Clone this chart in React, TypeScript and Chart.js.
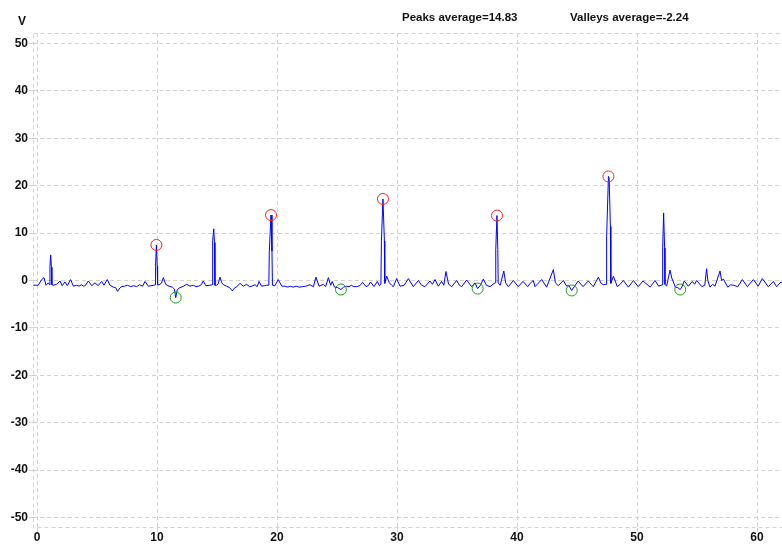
import React, { useEffect, useRef } from "react";
import { Chart, registerables } from "chart.js";

Chart.register(...registerables);

// Signal: [time, voltage] pairs
const signalSegA: [number, number][] = [
  [-0.3, -1.0], [0.1, -1.0], [0.39, 0.2], [0.58, 0.6], [0.75, -1.0], [0.94, -0.5], [1.05, -0.9],
  [1.08, 3.0], [1.14, 5.4], [1.2, 2.8], [1.24, -0.9], [1.36, -1.0], [1.64, -0.8], [1.92, -0.1],
  [2.1, -1.1], [2.33, -0.3], [2.53, -1.1], [2.8, 0.2], [3.03, -1.2], [3.3, -1.0], [3.5, -1.2],
  [3.7, -0.9], [3.9, -1.2], [4.05, -1.0], [4.28, -0.1], [4.56, -1.1], [4.83, -0.5], [5.1, -1.1],
  [5.39, -0.2], [5.58, -1.0], [5.86, 0.2], [6.08, -1.0], [6.36, -1.4], [6.55, -1.5], [6.72, -2.3],
  [6.9, -1.6], [7.06, -1.3], [7.3, -1.2], [7.55, -1.0], [7.8, -1.3], [8.05, -1.1], [8.3, -1.3],
  [8.55, -0.9], [8.8, -1.2], [9.0, -0.2], [9.28, -1.2], [9.5, -1.1], [9.75, -1.0], [9.85, -0.9],
  [9.88, 3.0], [9.95, 7.5], [10.02, 3.0], [10.05, -0.9],
];

const signalSegB: [number, number][] = [
  [10.17, -0.9], [10.36, -0.6], [10.53, 0.6], [10.72, -0.8], [11.0, -1.2], [11.28, -1.4], [11.45, -1.8],
  [11.56, -3.6], [11.68, -2.0], [11.83, -1.6], [12.2, -1.2], [12.47, -0.8], [12.75, -1.2], [13.03, -1.0],
  [13.25, -1.3], [13.44, -1.2], [13.65, -1.0], [13.86, -0.1], [14.06, -1.1], [14.42, -1.0], [14.6, -0.9],
  [14.64, 8.4], [14.73, 10.9], [14.79, 8.0], [14.83, -1.0], [14.97, -1.0], [15.1, -0.7], [15.25, 0.7],
  [15.4, -0.5], [15.53, -0.9], [15.8, -1.2], [16.05, -1.5], [16.28, -2.2], [16.45, -1.6], [16.64, -1.3],
  [16.92, -0.6], [17.19, -1.2], [17.47, -0.8], [17.7, -1.3], [17.89, -1.2], [18.17, -0.9], [18.35, -1.3],
  [18.5, -0.2], [18.72, -1.2], [18.95, -1.1], [19.14, -1.0], [19.32, -1.0],
  [19.36, 6.2], [19.5, 13.8], [19.58, 6.2], [19.62, -1.0],
];

const signalSegC: [number, number][] = [
  [19.83, -1.1], [20.1, 0.2], [20.4, -1.2], [20.67, -1.2], [20.9, -1.4], [21.1, -1.2], [21.35, -1.4],
  [21.6, -1.2], [21.85, -1.4], [22.1, -1.3], [22.4, -1.2], [22.75, -0.9], [23.03, -1.3], [23.25, 0.7],
  [23.5, -1.2], [23.7, -1.0], [23.86, -0.8], [24.05, -1.3], [24.28, 0.6], [24.47, -1.0], [24.6, -0.2],
  [24.8, -1.4], [25.05, -1.5], [25.33, -1.9], [25.55, -1.4], [25.8, -1.2], [26.0, -1.3], [26.2, -1.0],
  [26.4, -1.3], [26.64, -1.3], [26.9, -1.1], [27.14, -0.4], [27.42, -1.3], [27.6, -1.1], [27.8, -0.3],
  [28.08, -1.3], [28.36, -0.2], [28.53, -1.1], [28.66, -0.8],
  [28.7, 8.3], [28.83, 17.2], [28.95, 8.3], [28.98, -0.6],
];

const signalSegD: [number, number][] = [
  [29.14, 0.9], [29.36, -0.5], [29.55, -1.0], [29.7, -1.3], [29.97, 0.4], [30.25, -1.2], [30.6, -1.0],
  [30.95, 0.4], [31.36, -1.3], [31.78, 0.0], [32.05, -1.0], [32.33, -1.3], [32.75, -0.1], [32.95, -0.8],
  [33.17, 0.2], [33.44, -1.2], [33.72, -0.2], [33.9, -1.0], [34.08, 1.9], [34.3, -0.8], [34.56, -1.3],
  [34.97, 0.0], [35.2, -1.0], [35.39, -1.3], [35.8, 0.1], [36.22, -1.3], [36.5, -0.5], [36.72, -1.7],
  [36.95, -1.0], [37.2, 0.3], [37.45, -1.0], [37.75, -1.3], [38.1, -0.6], [38.2, -0.5],
  [38.23, 6.5], [38.33, 13.7], [38.4, 6.5], [38.43, -0.5],
];

const signalSegE: [number, number][] = [
  [38.6, -1.0], [38.9, 2.0], [39.05, -0.5], [39.28, -1.3], [39.7, 0.0], [40.1, -1.3], [40.5, -0.2],
  [40.9, -1.3], [41.1, -0.6], [41.36, 0.0], [41.5, -1.3], [42.06, 0.2], [42.47, -1.4], [43.03, 2.3],
  [43.2, -0.5], [43.44, -1.1], [43.86, 0.0], [44.14, -1.2], [44.3, -1.0], [44.56, -2.1], [44.8, -1.2],
  [45.1, -0.1], [45.5, -1.3], [45.94, -0.1], [46.36, -1.3], [46.78, 0.7], [47.0, -0.6], [47.19, -0.9],
  [47.42, -0.8], [47.47, 9.3], [47.62, 21.95], [47.68, 21.5], [47.78, 11.4], [47.82, -0.6],
];

const signalSegF: [number, number][] = [
  [48.03, 0.9], [48.36, -1.3], [48.6, -0.8], [48.86, 0.0], [49.28, -1.4], [49.7, 0.0], [50.1, -1.3],
  [50.5, -0.1], [51.1, -1.4], [51.5, 0.0], [51.8, -1.2], [52.0, -1.0], [52.12, -0.9],
  [52.14, 6.9], [52.22, 14.25], [52.3, 6.9], [52.33, -0.8],
  [52.47, -1.2], [52.75, 2.2], [52.9, 0.5], [53.03, -0.3], [53.2, -1.4], [53.4, -1.5], [53.6, -1.9],
  [53.75, -1.3], [53.94, -0.1], [54.28, -1.2], [54.6, -0.2], [54.8, -0.8], [54.97, 0.0], [55.4, -1.3],
  [55.65, -1.0], [55.8, 2.5], [55.9, 0.0], [56.08, -1.4], [56.3, -0.8], [56.5, -1.2], [56.92, 2.0],
  [57.05, 0.0], [57.2, 0.3], [57.56, -1.4], [57.8, -0.9], [58.03, -1.0], [58.4, -1.3], [58.78, 0.2],
  [59.2, -1.3], [59.7, 0.2], [60.1, -1.2], [60.44, 0.4], [60.94, -1.3], [61.36, -0.2], [61.64, -1.3],
  [62.0, -0.3], [62.4, -1.2], [62.8, -0.5], [63.2, -1.2], [63.6, -0.4], [64.0, -1.2],
];

const peaksT = [9.95, 19.5, 28.83, 38.33, 47.62];
const peaksV = [7.5, 13.8, 17.2, 13.7, 21.95];
const valleysT = [11.56, 25.33, 36.72, 44.56, 53.6];
const valleysV = [-3.6, -1.9, -1.7, -2.1, -1.9];

const xTicks = [0, 10, 20, 30, 40, 50, 60];
const yTicks = [-50, -40, -30, -20, -10, 0, 10, 20, 30, 40, 50];
const yUnit = "V";

const avg = (a: number[]) => a.reduce((s, v) => s + v, 0) / a.length;

const GRID = "#d2d2d2";
const FONT = "'Liberation Sans', Arial, sans-serif";
const X_MIN = -1 / 3;
const PX_PER_UNIT = 12;

export default function App() {
  const ref = useRef<HTMLCanvasElement | null>(null);

  useEffect(() => {
    if (!ref.current) return;
    const signal = [
      ...signalSegA, ...signalSegB, ...signalSegC, ...signalSegD, ...signalSegE, ...signalSegF,
    ].map(([x, y]) => ({ x, y }));
    const peaks = peaksT.map((x, i) => ({ x, y: peaksV[i] }));
    const valleys = valleysT.map((x, i) => ({ x, y: valleysV[i] }));

    const frameAndText = {
      id: "frameAndText",
      afterLayout(chart: any) {
        // keep 12 px per time unit, extending the axis past the visible window
        const s = chart.scales.x;
        s.max = X_MIN + (s.right - s.left) / PX_PER_UNIT;
        s.configure();
      },
      beforeDatasetsDraw(chart: any) {
        const { ctx, chartArea } = chart;
        ctx.save();
        ctx.strokeStyle = GRID;
        ctx.lineWidth = 1;
        ctx.setLineDash([4, 3]);
        ctx.strokeRect(chartArea.left + 0.5, chartArea.top + 0.5, chartArea.right - chartArea.left - 1, chartArea.bottom - chartArea.top - 1);
        ctx.restore();
      },
      afterDraw(chart: any) {
        const { ctx } = chart;
        ctx.save();
        ctx.fillStyle = "#111";
        ctx.textBaseline = "middle";
        ctx.textAlign = "left";
        ctx.font = `bold 12px ${FONT}`;
        ctx.fillText(yUnit, 18, 22);
        ctx.font = `bold 11.5px ${FONT}`;
        ctx.fillText(`Peaks average=${avg(peaksV).toFixed(2)}`, 402, 18);
        ctx.fillText(`Valleys average=${avg(valleysV).toFixed(2)}`, 570, 18);
        ctx.restore();
      },
    };

    const chart = new Chart(ref.current, {
      type: "line",
      data: {
        datasets: [
          {
            label: "Peaks",
            data: peaks,
            showLine: false,
            pointRadius: 5.5,
            pointBorderWidth: 1,
            pointBorderColor: "#ff2020",
            pointBackgroundColor: "rgba(0,0,0,0)",
            order: 0,
          },
          {
            label: "Valleys",
            data: valleys,
            showLine: false,
            pointRadius: 5.5,
            pointBorderWidth: 1,
            pointBorderColor: "#1a9a1a",
            pointBackgroundColor: "rgba(0,0,0,0)",
            order: 0,
          },
          {
            label: "Signal",
            data: signal,
            borderColor: "#0000ff",
            borderWidth: 1,
            pointRadius: 0,
            tension: 0,
            fill: false,
            order: 1,
          },
        ],
      },
      options: {
        animation: false,
        responsive: false,
        devicePixelRatio: 1,
        layout: { padding: { top: 33, left: 0, right: 0, bottom: 0 } },
        plugins: { legend: { display: false }, tooltip: { enabled: false } },
        scales: {
          x: {
            type: "linear",
            min: X_MIN,
            max: 65,
            afterBuildTicks: (s: any) => { s.ticks = xTicks.map((v) => ({ value: v })); },
            afterFit: (s: any) => { s.height = 17; },
            grid: { color: GRID, tickLength: 4, tickColor: GRID, drawTicks: true },
            border: { display: false, dash: [4, 3] },
            ticks: { color: "#111", font: { family: FONT, size: 12, weight: "bold" }, padding: -2, maxRotation: 0, autoSkip: false },
          },
          y: {
            type: "linear",
            min: -52.2,
            max: 52.2,
            afterBuildTicks: (s: any) => { s.ticks = yTicks.map((v) => ({ value: v })); },
            afterFit: (s: any) => { s.width = 33; },
            grid: { color: GRID, tickLength: 4, tickColor: GRID, drawTicks: true },
            border: { display: false, dash: [4, 3] },
            ticks: { color: "#111", font: { family: FONT, size: 12, weight: "bold" }, padding: 1, autoSkip: false },
          },
        },
      } as any,
      plugins: [frameAndText],
    });
    return () => chart.destroy();
  }, []);

  return (
    <div style={{ position: "fixed", left: 0, top: 0, width: 782, height: 545, overflow: "hidden", background: "#fff" }}>
      <canvas ref={ref} width={830} height={545} style={{ width: 830, height: 545, display: "block" }} />
    </div>
  );
}
